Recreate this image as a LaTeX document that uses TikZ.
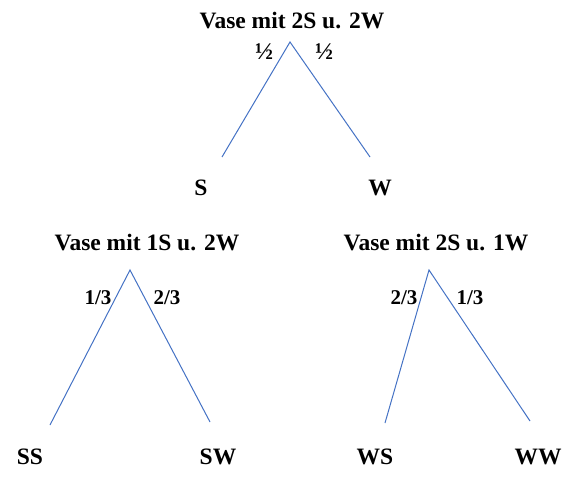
\documentclass[tikz,border=0pt]{standalone}
\usepackage{fontspec}
\setmainfont{Liberation Serif}
\definecolor{edgeblue}{RGB}{68,114,196}
\tikzset{
  lbl/.style={font=\fontsize{23.5}{28}\selectfont\bfseries, inner sep=0pt, anchor=center},
  prob/.style={font=\fontsize{21}{25}\selectfont\bfseries, inner sep=0pt, anchor=center},
  half/.style={font=\fontsize{24}{28}\selectfont\bfseries, inner sep=0pt, anchor=center},
  edge/.style={draw=edgeblue, line width=1pt}
}
\begin{document}
\begin{tikzpicture}[x=1pt,y=-1pt]
\useasboundingbox (0,0) rectangle (570,478);
\node[lbl] (t1) at (292,21) {Vase mit 2S u. 2W};
\coordinate (a1) at (290,42);
\coordinate (e1l) at (222,157);
\coordinate (e1r) at (370,157);
\draw[edge] (e1l) -- (a1) -- (e1r);
\node[half] (p1l) at (264,52) {½};
\node[half] (p1r) at (324,52) {½};
\node[lbl] (s) at (201,188) {S};
\node[lbl] (w) at (380,188) {W};

\node[lbl] (t2) at (147,243) {Vase mit 1S u. 2W};
\coordinate (a2) at (130,270);
\coordinate (e2l) at (50,425);
\coordinate (e2r) at (210,422);
\draw[edge] (e2l) -- (a2) -- (e2r);
\node[prob] (p2l) at (98,298) {1/3};
\node[prob] (p2r) at (167,298) {2/3};

\node[lbl] (t3) at (436,243) {Vase mit 2S u. 1W};
\coordinate (a3) at (429,270);
\coordinate (e3l) at (385,423);
\coordinate (e3r) at (530,421);
\draw[edge] (e3l) -- (a3) -- (e3r);
\node[prob] (p3l) at (404,298) {2/3};
\node[prob] (p3r) at (470,298) {1/3};

\node[lbl] (ss) at (30,457) {SS};
\node[lbl] (sw) at (218,457) {SW};
\node[lbl] (ws) at (375,457) {WS};
\node[lbl] (ww) at (538,457) {WW};
\end{tikzpicture}
\end{document}
